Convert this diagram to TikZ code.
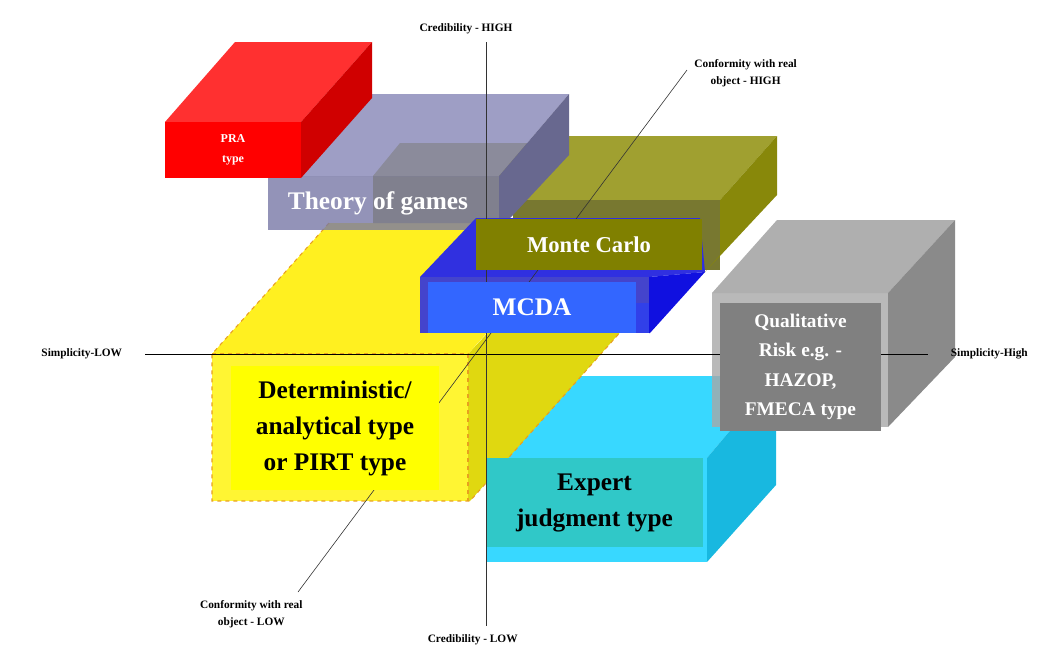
\documentclass[tikz,border=0pt]{standalone}
\usepackage{fontspec}
\setmainfont{Liberation Serif}
\usepackage{xcolor}
\definecolor{redtop}{HTML}{FF3030}
\definecolor{redfront}{HTML}{FF0000}
\definecolor{redside}{HTML}{D00000}
\definecolor{gamestop}{HTML}{8686B6}
\definecolor{gamesfront}{HTML}{7878A6}
\definecolor{gamesside}{HTML}{68688F}
\definecolor{olivetop}{HTML}{A0A030}
\definecolor{olivestrip}{HTML}{787830}
\definecolor{oliveside}{HTML}{88880A}
\definecolor{olivefront}{HTML}{808000}
\definecolor{bluetop}{HTML}{3030E0}
\definecolor{bluefront}{HTML}{4444CC}
\definecolor{blueside}{HTML}{1010E0}
\definecolor{bluelabel}{HTML}{3366FF}
\definecolor{yellowtop}{HTML}{FFF020}
\definecolor{yellowfront}{HTML}{FFF533}
\definecolor{yellowside}{HTML}{E0D810}
\definecolor{yellowlabel}{HTML}{FFFF00}
\definecolor{yellowedge}{HTML}{E8A020}
\definecolor{cyantop}{HTML}{38D8FF}
\definecolor{cyanside}{HTML}{18B8E0}
\definecolor{cyanlabel}{HTML}{30C8C8}
\definecolor{greytop}{HTML}{A8A8A8}
\definecolor{greyside}{HTML}{8A8A8A}
\definecolor{greylabel}{HTML}{808080}
\usetikzlibrary{positioning}
\begin{document}
\begin{tikzpicture}[
        x=0.75pt, y=-0.75pt,
        node distance=3pt,
        boxlabel/.style={inner sep=0pt, align=center, font=\bfseries\fontsize{19}{27}\selectfont},
        axislabel/.style={inner sep=0pt, align=center, font=\bfseries\fontsize{8.5}{13}\selectfont},
        axisline/.style={draw=black, line width=0.7pt},
        thinline/.style={draw=black!80, line width=0.45pt}
    ]
        \useasboundingbox (0,0) rectangle (1064,662);
        % expert judgment, back part
        \fill[cyantop] (486,458) -- (560,376) -- (776,376) -- (707,458) -- cycle;
        % deterministic box
        \fill[yellowside] (468,354) -- (590,223) -- (640,310) -- (470,501) -- (468,501) -- cycle;
        \fill[yellowtop] (212,354) -- (329,223) -- (585,223) -- (468,354) -- cycle;
        \fill[yellowfront] (212,354) rectangle (468,501);
        \draw[yellowedge, dashed, line width=0.8pt] (329,223) -- (212,354) -- (212,501) -- (468,501) -- (470,501) -- (640,310);
        \draw[yellowedge, dashed, line width=0.8pt] (212,354) -- (468,354) -- (468,501);
        % expert judgment, front part
        \fill[cyantop] (486,458) rectangle (707,562);
        \fill[cyanside] (707,458) -- (776,376) -- (776,485) -- (707,562) -- cycle;
        % monte carlo, back part
        \fill[olivetop] (373,176) -- (400,143) -- (562,143) -- (569,136) -- (777,136) -- (720,200) -- (513,200) -- (499,223) -- (373,223) -- cycle;
        \fill[olivestrip] (513,200) rectangle (720,219);
        \fill[olivestrip] (476,219) rectangle (702,270);
        \fill[olivestrip] (702,200) rectangle (720,270);
        \fill[oliveside] (720,200) -- (777,136) -- (777,195) -- (705,272) -- (720,255) -- cycle;
        % theory of games
        \fill[gamestop, fill opacity=0.8] (268,176) -- (338,94) -- (569,94) -- (499,176) -- cycle;
        \fill[gamesfront, fill opacity=0.8] (268,176) rectangle (499,230);
        \fill[gamesside] (499,176) -- (569,94) -- (569,155) -- (499,230) -- cycle;
        % mcda, back part
        \fill[bluetop] (420,277) -- (476,218) -- (700,218) -- (705,272) -- (649,277) -- cycle;
        \fill[blueside] (649,277) -- (705,272) -- (650,333) -- (649,333) -- cycle;
        \fill[bluefront] (420,277) rectangle (649,333);
        \fill[bluetop!70!bluelabel] (636,303) rectangle (649,333);
        % qualitative risk, back part
        \fill[greytop, fill opacity=0.92] (712,293) -- (777,220) -- (955,220) -- (888,293) -- cycle;
        \fill[greyside] (888,293) -- (955,220) -- (955,357) -- (888,427) -- cycle;
        \fill[greytop, fill opacity=0.8] (712,293) rectangle (888,427);
        % axes
        \coordinate (credhigh) at (486,42);
        \coordinate (credlow) at (486,626);
        \coordinate (simplow) at (145,354);
        \coordinate (simphigh) at (928,354);
        \coordinate (confhigh) at (687,70);
        \coordinate (conflow) at (298,592);
        \draw[axisline] (simplow) -- (simphigh);
        \draw[thinline] (credhigh) -- (credlow);
        \draw[thinline] (confhigh) -- (conflow);
        % front faces with labels
        \node[fill=yellowlabel, minimum width=156pt, minimum height=93pt, boxlabel] (determ) at (335,428) {Deterministic/\\analytical type\\or PIRT type};
        \node[fill=cyanlabel, minimum width=162pt, minimum height=66.75pt, boxlabel] (expert) at (594.5,502.5) {Expert\\judgment type};
        \draw[thinline] (credhigh) ++(0,416) -- (credlow);
        \node[fill=bluelabel, minimum width=156pt, minimum height=38.25pt, boxlabel, text=white] (mcda) at (532,307.5) {MCDA};
        \node[fill=olivefront, minimum width=169.5pt, minimum height=38.25pt, boxlabel, text=white, font=\bfseries\fontsize{17}{20}\selectfont] (monte) at (589,244.5) {Monte Carlo};
        \node[fill=greylabel, minimum width=120.75pt, minimum height=96pt, boxlabel, text=white, font=\bfseries\fontsize{14.5}{22}\selectfont] (qualit) at (800.5,367) {Qualitative\\Risk e.g. -\\HAZOP,\\FMECA type};
        % theory of games label
        \node[boxlabel, text=white] (games) at (378,203) {Theory of games};
        % pra box
        \fill[redtop] (165,122) -- (235,42) -- (372,42) -- (301,122) -- cycle;
        \fill[redside] (301,122) -- (372,42) -- (372,98) -- (301,178) -- cycle;
        \node[fill=redfront, minimum width=102pt, minimum height=42pt, inner sep=0pt, align=center, text=white, font=\bfseries\fontsize{9}{15}\selectfont] (pra) at (233,150) {PRA\\type};
        % axis labels
        \node[axislabel, above=of credhigh, yshift=3pt, xshift=-15pt] (credhighlabel) {Credibility - HIGH};
        \node[axislabel, below=of credlow, yshift=-3pt, xshift=-10pt] (credlowlabel) {Credibility - LOW};
        \node[axislabel, left=of simplow, xshift=-14pt] (simplowlabel) {Simplicity-LOW};
        \node[axislabel, right=of simphigh, xshift=14pt] (simphighlabel) {Simplicity-High};
        \node[axislabel, above=of confhigh, xshift=44pt, yshift=-16pt] (confhighlabel) {Conformity with real\\object - HIGH};
        \node[axislabel, below=of conflow, xshift=-35pt, yshift=-3pt] (conflowlabel) {Conformity with real\\object - LOW};
    \end{tikzpicture}
\end{document}
